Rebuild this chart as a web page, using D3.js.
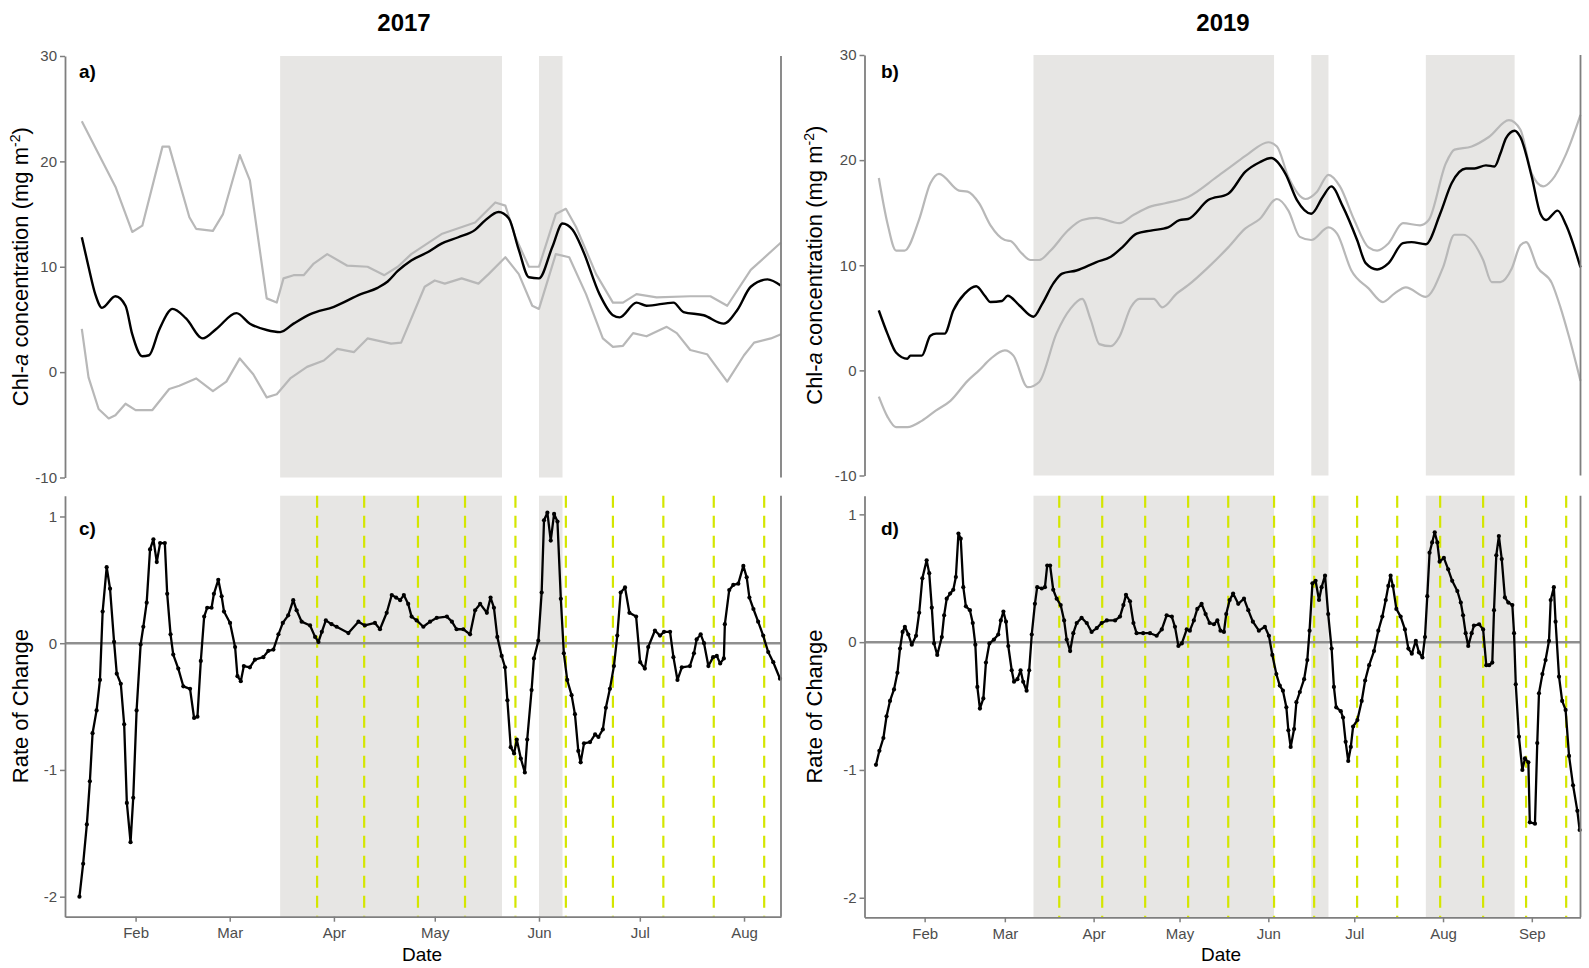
<!DOCTYPE html>
<html>
<head>
<meta charset="utf-8">
<script src="https://cdn.jsdelivr.net/npm/d3@7/dist/d3.min.js"></script>
<style>
  html, body { margin: 0; padding: 0; background: #fff; }
  svg { display: block; font-family: "Liberation Sans", Arial, sans-serif; }
</style>
</head>
<body>
<svg id="chart" width="1589" height="968"></svg>
<script>
// ---------------- DATA (x = day of year, y = value) ----------------
const years = [2017, 2019];
const yearTitles = ["2017", "2019"];
const panelLabels = ["a)", "b)", "c)", "d)"];
const monthTicks2017 = ["2017-02-01","2017-03-01","2017-04-01","2017-05-01","2017-06-01","2017-07-01","2017-08-01"];
const monthTicks2019 = ["2019-02-01","2019-03-01","2019-04-01","2019-05-01","2019-06-01","2019-07-01","2019-08-01","2019-09-01"];
const chlTicks = [-10, 0, 10, 20, 30];
const rocTicks = [-2, -1, 0, 1];

// shaded periods [start doy, end doy]
const shade2017 = [[75, 141], [152, 159]];
const shade2019 = [[70, 154], [167, 173], [207, 238]];

// sampling dates (dashed vertical lines), day of year
const samp2017 = [86, 100, 116, 130, 145, 160, 174, 189, 204, 219];
const samp2019 = [79, 94, 109, 124, 138, 154, 168, 183, 197, 212, 227, 242, 256];

// 2017 Chl-a: mean and upper / lower bounds
const chl2017Upper = [[16,23.8],[26,17.6],[31,13.3],[34,13.9],[40,21.4],[42,21.4],[48,14.7],[50,13.6],[55,13.4],[58,15.0],[63,20.6],[66,18.2],[71,7.0],[74,6.6],[76,8.9],[79,9.2],[82,9.2],[85,10.3],[89,11.2],[95,10.1],[101,10.0],[106,9.2],[110,10.0],[114,11.2],[123,13.1],[133,14.2],[139,16.1],[142,15.8],[145,12.8],[149,10.0],[152,10.0],[157,15.0],[160,15.5],[163,13.8],[169,9.3],[174,6.6],[177,6.6],[181,7.4],[187,7.1],[197,7.2],[203,7.2],[208,6.3],[215,9.7],[224,12.3]];
const chl2017Mean = [[16,12.8],[18,10.0],[20,7.4],[22,6.1],[26,7.2],[29,6.3],[31,3.6],[34,1.5],[36,1.6],[39,4.0],[43,6.0],[47,5.1],[52,3.2],[56,4.1],[62,5.6],[66,4.6],[71,4.0],[75,3.8],[79,4.6],[84,5.5],[91,6.2],[99,7.4],[104,8.0],[107,8.6],[110,9.6],[114,10.6],[119,11.4],[123,12.2],[128,12.8],[133,13.5],[136,14.4],[140,15.2],[143,14.6],[146,11.6],[149,9.0],[152,8.9],[156,11.9],[159,14.1],[162,13.5],[165,11.6],[170,7.4],[174,5.4],[176,5.2],[181,6.6],[184,6.3],[192,6.6],[195,5.7],[201,5.4],[207,4.6],[211,5.9],[215,8.1],[220,8.8],[224,8.2]];
const chl2017Lower = [[16,4.1],[18,-0.5],[21,-3.5],[24,-4.4],[26,-4.1],[29,-3.0],[32,-3.6],[37,-3.6],[42,-1.6],[45,-1.3],[50,-0.6],[55,-1.8],[59,-0.9],[63,1.3],[67,-0.2],[71,-2.4],[74,-2.1],[78,-0.6],[83,0.5],[88,1.1],[92,2.2],[97,1.9],[101,3.2],[108,2.7],[111,2.8],[118,8.1],[121,8.7],[124,8.4],[129,8.9],[134,8.4],[137,9.3],[142,10.9],[146,9.3],[150,6.3],[152,6.0],[157,11.2],[161,10.9],[166,7.4],[171,3.2],[174,2.4],[177,2.5],[180,3.7],[184,3.4],[190,4.3],[193,3.7],[197,2.1],[202,1.7],[208,-0.9],[213,1.6],[216,2.8],[221,3.2],[224,3.6]];

// 2019 Chl-a
const chl2019Upper = [[16,18.3],[19,14.0],[22,11.4],[25,11.4],[30,14.3],[34,17.8],[37,18.7],[44,17.1],[47,17.0],[51,15.9],[55,13.8],[60,12.4],[62,12.3],[66,11.1],[69,10.5],[72,10.5],[76,11.4],[82,13.3],[87,14.3],[92,14.5],[100,14.0],[105,14.8],[111,15.6],[116,15.9],[124,16.5],[134,18.4],[139,19.4],[145,20.6],[152,21.7],[155,21.3],[159,18.4],[165,16.3],[169,17.0],[173,18.6],[177,17.5],[182,14.3],[187,11.7],[190,11.4],[194,12.1],[199,14.0],[205,13.8],[208,14.3],[214,19.7],[217,21.0],[223,21.3],[229,22.2],[236,23.8],[240,22.9],[244,18.7],[248,17.5],[251,18.1],[256,20.6],[261,24.3]];
const chl2019Mean = [[16,5.7],[19,3.5],[22,1.7],[26,1.1],[27,1.4],[31,1.4],[34,3.3],[36,3.5],[39,3.5],[42,5.7],[46,7.3],[50,8.0],[53,7.1],[55,6.5],[59,6.6],[61,7.1],[65,6.2],[70,5.1],[73,6.3],[77,8.3],[80,9.2],[85,9.5],[92,10.3],[97,10.8],[101,11.7],[106,13.0],[111,13.3],[117,13.6],[121,14.3],[124,14.4],[131,16.2],[138,16.8],[144,18.9],[149,19.8],[153,20.2],[158,18.7],[162,16.2],[167,14.9],[171,16.5],[174,17.5],[178,15.6],[183,12.4],[186,10.2],[190,9.6],[194,10.2],[199,12.1],[202,12.2],[207,12.0],[212,14.9],[216,17.8],[221,19.2],[224,19.2],[228,19.5],[231,19.4],[233,20.6],[235,22.1],[238,22.8],[240,22.2],[244,18.4],[247,14.9],[249,14.3],[253,15.2],[256,13.8],[261,9.8]];
const chl2019Lower = [[16,-2.5],[19,-4.4],[22,-5.4],[26,-5.4],[31,-4.8],[36,-3.8],[41,-2.9],[47,-1.0],[51,0.0],[55,1.1],[60,1.9],[63,1.4],[68,-1.6],[72,-1.1],[78,3.5],[83,5.9],[87,6.8],[90,4.8],[93,2.5],[97,2.3],[100,3.2],[104,6.0],[107,6.8],[112,6.8],[115,6.0],[120,7.3],[124,8.1],[131,9.8],[138,11.7],[144,13.5],[149,14.4],[155,16.3],[159,15.2],[163,12.7],[167,12.4],[173,13.6],[176,13.0],[181,9.5],[187,7.8],[192,6.5],[196,7.3],[200,7.9],[207,7.0],[213,9.8],[217,12.9],[220,12.9],[227,10.5],[230,8.4],[233,8.4],[237,9.7],[240,11.9],[242,12.2],[246,9.8],[251,8.3],[254,6.0],[257,3.2],[261,-1.0]];

// Rate of change
const roc2017 = [[15.3,-2.0],[16.4,-1.74],[17.5,-1.43],[18.4,-1.09],[19.2,-0.71],[20.4,-0.53],[21.4,-0.29],[22.2,0.25],[23.4,0.6],[24.4,0.43],[25.6,0.01],[26.4,-0.24],[27.6,-0.32],[28.6,-0.64],[29.4,-1.26],[30.5,-1.57],[31.3,-1.22],[32.3,-0.53],[33.5,-0.01],[34.3,0.13],[35.3,0.32],[36.3,0.74],[37.3,0.82],[38.3,0.64],[39.3,0.79],[40.7,0.79],[41.4,0.39],[42.4,0.07],[43.2,-0.09],[44.7,-0.2],[46.2,-0.34],[48.2,-0.36],[49.4,-0.59],[50.4,-0.58],[51.4,-0.14],[52.4,0.21],[53.3,0.28],[54.6,0.28],[55.3,0.39],[56.6,0.5],[57.6,0.37],[58.3,0.25],[60.1,0.16],[61.6,-0.03],[62.3,-0.26],[63.3,-0.3],[64.2,-0.18],[66,-0.19],[67.5,-0.13],[70,-0.11],[71.5,-0.06],[73,-0.05],[74.5,0.07],[75.8,0.16],[77.4,0.22],[78.9,0.34],[79.9,0.26],[81.4,0.17],[83.9,0.14],[85.4,0.05],[86.4,0.01],[87.4,0.09],[88.6,0.18],[90.3,0.15],[91.8,0.13],[95.3,0.08],[98.3,0.17],[100.2,0.14],[103.2,0.16],[104.7,0.11],[106.7,0.24],[108.2,0.38],[109.5,0.36],[110.7,0.34],[111.8,0.38],[113.1,0.31],[114.1,0.21],[115.6,0.18],[117.6,0.13],[119.6,0.17],[121.6,0.2],[124.6,0.21],[126.1,0.17],[127.5,0.11],[129.5,0.11],[131.5,0.07],[133,0.26],[134.5,0.31],[136.5,0.24],[137.6,0.36],[138.6,0.28],[139.6,0.05],[140.9,-0.1],[141.9,-0.19],[142.6,-0.45],[143.6,-0.82],[144.6,-0.87],[145.4,-0.76],[146.6,-0.91],[147.8,-1.02],[148.5,-0.76],[149.8,-0.37],[150.5,-0.12],[151.8,0.02],[152.8,0.4],[153.5,0.97],[154.5,1.03],[155.5,0.81],[156.5,1.02],[157.5,0.96],[158.5,0.35],[159.4,-0.08],[160.4,-0.29],[161.7,-0.41],[162.7,-0.56],[163.7,-0.85],[164.4,-0.94],[165.4,-0.79],[167.2,-0.78],[168.7,-0.72],[169.7,-0.74],[171,-0.68],[171.9,-0.51],[173.1,-0.36],[174.3,-0.18],[175.3,0.06],[176.3,0.4],[177.6,0.44],[178.9,0.24],[180.9,0.21],[182.1,-0.15],[183.5,-0.2],[184.5,-0.03],[186.5,0.1],[188,0.06],[189.2,0.09],[191,0.09],[192,-0.11],[193.2,-0.29],[194.5,-0.19],[196.9,-0.18],[198.1,-0.08],[198.9,0.03],[200.1,0.07],[201.1,0.0],[202.4,-0.18],[203.8,-0.11],[204.9,-0.1],[205.9,-0.16],[207,-0.12],[207.3,0.15],[208.6,0.42],[209.8,0.46],[211.3,0.47],[212.8,0.61],[213.8,0.52],[214.6,0.36],[215.8,0.27],[217.2,0.17],[218.7,0.06],[220.2,-0.07],[221.7,-0.15],[223.7,-0.28]];
const roc2019 = [[15,-0.96],[16.2,-0.85],[17.6,-0.75],[18.7,-0.58],[19.9,-0.46],[21.3,-0.37],[22.5,-0.24],[23.4,-0.05],[24.3,0.08],[25.1,0.12],[26.3,0.06],[27.5,-0.02],[29,0.05],[30.1,0.23],[31.2,0.5],[32.7,0.64],[33.6,0.54],[34.5,0.27],[35.3,-0.01],[36.4,-0.1],[38,0.04],[38.8,0.21],[39.7,0.34],[40.9,0.38],[42,0.41],[42.9,0.51],[43.8,0.85],[44.6,0.81],[45.5,0.43],[46.4,0.28],[47.8,0.25],[48.8,0.15],[49.7,-0.02],[50.4,-0.35],[51.3,-0.52],[52.5,-0.44],[53.4,-0.16],[54.6,-0.01],[56.2,0.02],[57.7,0.06],[58.6,0.17],[59.5,0.24],[60.4,0.16],[61.2,-0.03],[62.4,-0.22],[63.2,-0.31],[64.4,-0.29],[65.5,-0.22],[66.4,-0.31],[67.6,-0.38],[68.5,-0.22],[69.4,0.06],[70.5,0.3],[71.3,0.43],[72.9,0.42],[74,0.43],[74.8,0.6],[75.8,0.6],[76.9,0.41],[78.1,0.34],[79.5,0.29],[80.7,0.17],[81.6,0.02],[82.8,-0.07],[83.9,0.07],[85.1,0.15],[86.8,0.19],[88.6,0.15],[90.3,0.08],[92.1,0.11],[93.8,0.15],[95.6,0.17],[98.5,0.17],[100.2,0.2],[101.4,0.29],[102.3,0.37],[103.7,0.32],[104.9,0.15],[106,0.07],[108.3,0.07],[110.7,0.07],[113,0.05],[114.8,0.1],[116.5,0.21],[118.3,0.2],[119.4,0.12],[120.6,-0.03],[121.8,-0.01],[123.5,0.1],[124.6,0.09],[126,0.17],[127.2,0.26],[128.7,0.3],[130.1,0.22],[131.5,0.15],[133,0.14],[134.2,0.17],[135.3,0.09],[136.5,0.08],[137.3,0.22],[138.5,0.33],[139.7,0.38],[141.5,0.3],[143.5,0.34],[145,0.25],[146.6,0.16],[148.7,0.09],[150.8,0.12],[152.2,0.05],[153.4,-0.1],[154.8,-0.25],[156,-0.34],[157.1,-0.38],[158.3,-0.51],[159,-0.69],[159.8,-0.82],[161,-0.68],[161.8,-0.47],[163,-0.39],[164.5,-0.29],[165.6,-0.14],[166.4,0.09],[167.4,0.46],[168.5,0.48],[169.7,0.33],[170.6,0.43],[171.8,0.52],[172.9,0.22],[174.1,-0.05],[174.9,-0.35],[175.7,-0.51],[177.3,-0.54],[178.1,-0.59],[179,-0.78],[179.9,-0.93],[180.8,-0.82],[181.6,-0.66],[183.1,-0.61],[184.6,-0.46],[185.8,-0.3],[187.2,-0.18],[188.9,-0.07],[190.4,0.09],[191.8,0.2],[193,0.33],[193.9,0.44],[194.7,0.52],[195.5,0.44],[196.7,0.26],[198.2,0.2],[199.7,0.1],[200.9,-0.05],[202.1,-0.09],[203.5,0.01],[204.6,-0.08],[205.8,-0.12],[206.7,0.04],[207.5,0.36],[208.3,0.7],[209.2,0.78],[210.1,0.86],[211,0.78],[211.8,0.63],[213.3,0.66],[214.8,0.57],[216.2,0.48],[218,0.4],[219.2,0.31],[220,0.21],[220.9,0.07],[221.8,-0.03],[223,0.07],[223.8,0.13],[225.6,0.14],[227,0.1],[228.1,-0.18],[229.1,-0.18],[230.2,-0.16],[230.8,0.25],[231.6,0.68],[232.5,0.83],[233.5,0.65],[234.6,0.35],[235.8,0.31],[237.2,0.29],[237.8,0.07],[238.4,-0.33],[239.5,-0.74],[240.7,-1.0],[241.6,-0.91],[242.8,-0.94],[243.3,-1.41],[245.1,-1.42],[245.9,-0.79],[246.5,-0.4],[247.7,-0.25],[248.8,-0.14],[250,0.01],[250.6,0.33],[251.7,0.43],[252.3,0.16],[253.5,-0.27],[254.6,-0.46],[255.8,-0.53],[257,-0.89],[258.4,-1.12],[259.9,-1.32],[260.7,-1.47]];

// ---------------- LAYOUT ----------------
const panels = [
  { year: 2017, xDom: [11, 224], xRange: [65, 781], topY: [477.5, 56], botDom: [-2.158, 1.164], botY: [916.7, 495.7],
    upper: chl2017Upper, mean: chl2017Mean, lower: chl2017Lower, roc: roc2017, shade: shade2017, samp: samp2017, grayCurve: d3.curveLinear,
    months: monthTicks2017, title: yearTitles[0], titleX: 404, labTop: panelLabels[0], labBot: panelLabels[2], labX: 79, yTitleX: 28, dateX: 422 },
  { year: 2019, xDom: [11, 261], xRange: [864.5, 1580.5], topY: [475.5, 55], botDom: [-2.153, 1.146], botY: [917.3, 495.7],
    upper: chl2019Upper, mean: chl2019Mean, lower: chl2019Lower, roc: roc2019, shade: shade2019, samp: samp2019, grayCurve: d3.curveMonotoneX,
    months: monthTicks2019, title: yearTitles[1], titleX: 1223, labTop: panelLabels[1], labBot: panelLabels[3], labX: 881, yTitleX: 822, dateX: 1221 }
];

const svg = d3.select("#chart");
const AXIS_COL = "#7f7f7f";
const TICK_TXT = "#4d4d4d";
const SHADE = "#e7e6e4";
const VLINE = "#d4e600";
const plainNum = d => String(d);   // hyphen-minus, no decimals

function doyToDate(year, doy) {
  return new Date(new Date(year, 0, 1).getTime() + (doy - 1) * 86400000);
}

panels.forEach(p => {
  const x = d3.scaleTime()
    .domain([doyToDate(p.year, p.xDom[0]), doyToDate(p.year, p.xDom[1])])
    .range(p.xRange);
  const yTop = d3.scaleLinear().domain([-10, 30]).range(p.topY);
  const yBot = d3.scaleLinear().domain(p.botDom).range(p.botY);
  const X = doy => x(doyToDate(p.year, doy));

  // ---------- TOP PANEL ----------
  const gT = svg.append("g");
  gT.selectAll("rect.shade").data(p.shade).enter().append("rect")
    .attr("x", d => X(d[0])).attr("width", d => X(d[1]) - X(d[0]))
    .attr("y", yTop.range()[1]).attr("height", yTop.range()[0] - yTop.range()[1])
    .attr("fill", SHADE);

  const lineGray = d3.line().x(d => X(d[0])).y(d => yTop(d[1])).curve(p.grayCurve);
  const lineMean = d3.line().x(d => X(d[0])).y(d => yTop(d[1])).curve(d3.curveMonotoneX);
  [p.upper, p.lower].forEach(s => {
    gT.append("path").datum(s).attr("d", lineGray)
      .attr("fill", "none").attr("stroke", "#b8b8b8").attr("stroke-width", 2.2).attr("stroke-linejoin", "round");
  });
  gT.append("path").datum(p.mean).attr("d", lineMean)
    .attr("fill", "none").attr("stroke", "#000").attr("stroke-width", 2.4).attr("stroke-linejoin", "round");

  // right border
  gT.append("line").attr("x1", p.xRange[1]).attr("x2", p.xRange[1])
    .attr("y1", yTop.range()[1]).attr("y2", yTop.range()[0])
    .attr("stroke", AXIS_COL).attr("stroke-width", 1.8);

  const axT = gT.append("g").attr("transform", `translate(${p.xRange[0]},0)`)
    .call(d3.axisLeft(yTop).tickValues(chlTicks).tickFormat(plainNum).tickSize(5).tickSizeOuter(0).tickPadding(3));
  styleAxis(axT);

  gT.append("text").attr("x", p.labX).attr("y", 78).text(p.labTop)
    .attr("font-size", 19).attr("font-weight", "bold").attr("fill", "#000");

  // y title with italic a and superscript
  const tT = gT.append("text")
    .attr("transform", `translate(${p.yTitleX},${(yTop.range()[0] + yTop.range()[1]) / 2}) rotate(-90)`)
    .attr("text-anchor", "middle").attr("font-size", 22).attr("fill", "#000");
  tT.append("tspan").text("Chl-");
  tT.append("tspan").attr("font-style", "italic").text("a");
  tT.append("tspan").text(" concentration (mg m");
  tT.append("tspan").attr("font-size", 14).attr("dy", -8).text("-2");
  tT.append("tspan").attr("dy", 8).text(")");

  // year title
  svg.append("text").attr("x", p.titleX).attr("y", 31).attr("text-anchor", "middle")
    .attr("font-size", 24).attr("font-weight", "bold").attr("fill", "#000").text(p.title);

  // ---------- BOTTOM PANEL ----------
  const gB = svg.append("g");
  gB.selectAll("rect.shade").data(p.shade).enter().append("rect")
    .attr("x", d => X(d[0])).attr("width", d => X(d[1]) - X(d[0]))
    .attr("y", yBot.range()[1]).attr("height", yBot.range()[0] - yBot.range()[1])
    .attr("fill", SHADE);

  gB.selectAll("line.samp").data(p.samp).enter().append("line")
    .attr("x1", d => X(d)).attr("x2", d => X(d))
    .attr("y1", yBot.range()[1]).attr("y2", yBot.range()[0])
    .attr("stroke", VLINE).attr("stroke-width", 2.2).attr("stroke-dasharray", "12,8");

  gB.append("line").attr("x1", p.xRange[0]).attr("x2", p.xRange[1])
    .attr("y1", yBot(0)).attr("y2", yBot(0))
    .attr("stroke", "#8f8f8f").attr("stroke-width", 2.5);

  const lineB = d3.line().x(d => X(d[0])).y(d => yBot(d[1]));
  gB.append("path").datum(p.roc).attr("d", lineB)
    .attr("fill", "none").attr("stroke", "#000").attr("stroke-width", 2.3).attr("stroke-linejoin", "round");
  gB.selectAll("circle").data(p.roc).enter().append("circle")
    .attr("cx", d => X(d[0])).attr("cy", d => yBot(d[1])).attr("r", 2.1).attr("fill", "#000");

  gB.append("line").attr("x1", p.xRange[1]).attr("x2", p.xRange[1])
    .attr("y1", yBot.range()[1]).attr("y2", yBot.range()[0])
    .attr("stroke", AXIS_COL).attr("stroke-width", 1.8);

  const axB = gB.append("g").attr("transform", `translate(${p.xRange[0]},0)`)
    .call(d3.axisLeft(yBot).tickValues(rocTicks).tickFormat(plainNum).tickSize(5).tickSizeOuter(0).tickPadding(3));
  styleAxis(axB);

  const axX = gB.append("g").attr("transform", `translate(0,${yBot.range()[0]})`)
    .call(d3.axisBottom(x).tickValues(p.months.map(s => d3.timeParse("%Y-%m-%d")(s)))
      .tickFormat(d3.timeFormat("%b")).tickSize(5).tickSizeOuter(0).tickPadding(6));
  styleAxis(axX);

  gB.append("text").attr("x", p.labX).attr("y", 535).text(p.labBot)
    .attr("font-size", 19).attr("font-weight", "bold").attr("fill", "#000");

  gB.append("text")
    .attr("transform", `translate(${p.yTitleX},${(yBot.range()[0] + yBot.range()[1]) / 2}) rotate(-90)`)
    .attr("text-anchor", "middle").attr("font-size", 22).attr("fill", "#000").text("Rate of Change");

  gB.append("text").attr("x", p.dateX).attr("y", 961).attr("text-anchor", "middle")
    .attr("font-size", 19).attr("fill", "#000").text("Date");
});

function styleAxis(g) {
  g.select(".domain").attr("stroke", AXIS_COL).attr("stroke-width", 1.8);
  g.selectAll(".tick line").attr("stroke", AXIS_COL).attr("stroke-width", 1.5);
  g.selectAll(".tick text").attr("fill", TICK_TXT).attr("font-size", 15)
    .attr("font-family", "'Liberation Sans', Arial, sans-serif");
}
</script>
</body>
</html>
